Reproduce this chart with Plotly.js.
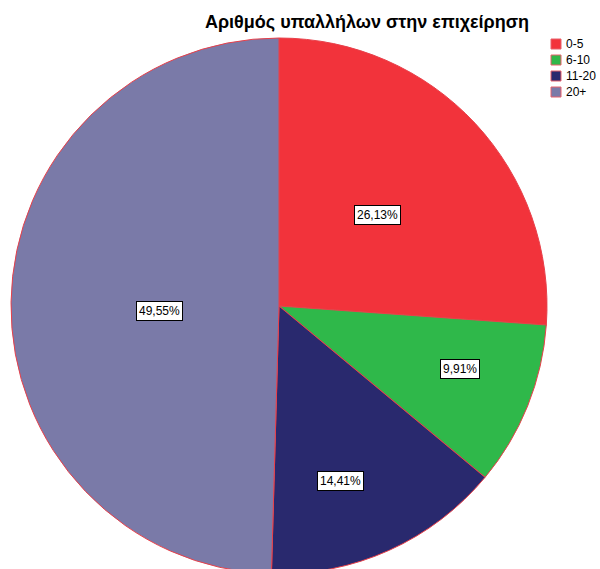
<!DOCTYPE html>
<html>
<head>
<meta charset="utf-8">
<script src="https://cdn.plot.ly/plotly-3.0.1.min.js"></script>
<style>
html,body{margin:0;padding:0;overflow:hidden;background:#fff;}
#chart{width:600px;height:574px;}
</style>
</head>
<body>
<div id="chart"></div>
<script>
const categories = ["0-5", "6-10", "11-20", "20+"];
const percentages = [26.13, 9.91, 14.41, 49.55];
const labelTexts = ["26,13%", "9,91%", "14,41%", "49,55%"];
const sliceColors = ["#f2333b", "#2fb84a", "#29296e", "#7a7aa8"];
const labelRadius = [0.5, 0.72, 0.67, 0.45];
const labelNudgeX = [0, 2, -12, 1];
const labelNudgeY = [0, 9, -11, -7];

const W = 600, H = 574;
const M = {l: 11, r: 53, t: 38, b: 0};
const plotW = W - M.l - M.r, plotH = H - M.t - M.b;
const FONT = "Liberation Sans, Arial, sans-serif";

const total = percentages.reduce((a, b) => a + b, 0);
let cum = 0;
const annotations = percentages.map((v, i) => {
  const mid = (cum + v / 2) / total * 2 * Math.PI;
  cum += v;
  const f = labelRadius[i];
  return {
    xref: "paper", yref: "paper",
    x: 0.5 + 0.5 * f * Math.sin(mid),
    y: 0.5 + 0.5 * f * Math.cos(mid),
    xanchor: "center", yanchor: "middle",
    xshift: labelNudgeX[i], yshift: labelNudgeY[i],
    text: labelTexts[i],
    showarrow: false,
    font: {family: FONT, size: 12, color: "#000"},
    bgcolor: "#ffffff",
    bordercolor: "#000000",
    borderwidth: 1,
    borderpad: 2
  };
});

// custom compact legend (SPSS style)
const shapes = [];
const legX = 551, legY0 = 44, legStep = 16, sw = 10;
categories.forEach((c, i) => {
  const yc = legY0 + i * legStep;
  const px = (legX - M.l) / plotW;
  const px2 = (legX + sw - M.l) / plotW;
  const py = 1 - (yc - sw / 2 - M.t) / plotH;
  const py2 = 1 - (yc + sw / 2 - M.t) / plotH;
  shapes.push({type: "rect", xref: "paper", yref: "paper", x0: px, x1: px2, y0: py2, y1: py,
    fillcolor: sliceColors[i], line: {color: "#e8606a", width: 1}});
  annotations.push({xref: "paper", yref: "paper", x: (legX + sw + 3 - M.l) / plotW,
    y: 1 - (yc - M.t) / plotH, xanchor: "left", yanchor: "middle", showarrow: false,
    text: c, font: {family: FONT, size: 12, color: "#000"}});
});

const trace = {
  type: "pie",
  labels: categories,
  values: percentages,
  sort: false,
  direction: "clockwise",
  rotation: 0,
  textinfo: "none",
  hoverinfo: "label+percent",
  marker: {colors: sliceColors, line: {color: "#e8404a", width: 1}}
};

const layout = {
  width: W,
  height: H,
  margin: {l: M.l, r: M.r, t: M.t, b: M.b, pad: 0},
  paper_bgcolor: "#ffffff",
  title: {
    text: "<b>Αριθμός υπαλλήλων στην επιχείρηση</b>",
    font: {family: FONT, size: 18, color: "#000"},
    x: 367 / W, xanchor: "center", xref: "container",
    y: 1 - 22 / H, yanchor: "middle", yref: "container"
  },
  showlegend: false,
  shapes: shapes,
  annotations: annotations
};

Plotly.newPlot("chart", [trace], layout, {displayModeBar: false, staticPlot: true});
</script>
</body>
</html>
